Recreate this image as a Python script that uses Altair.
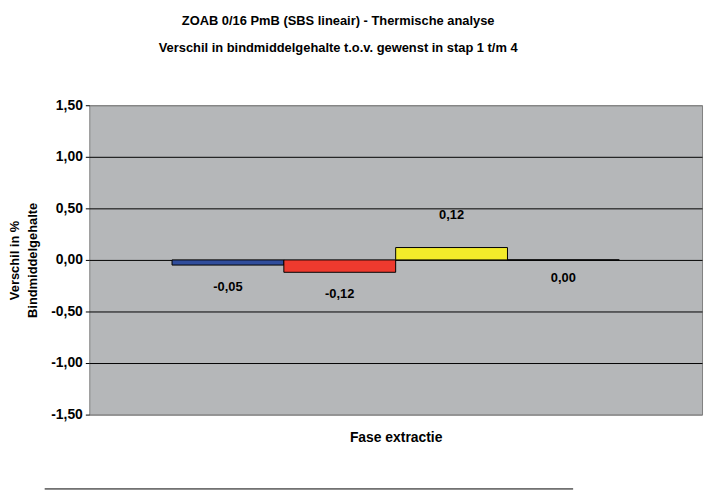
import altair as alt
import pandas as pd

# --- data ---
series = ["Stap 1", "Stap 2", "Stap 3", "Stap 4"]
values = [-0.05, -0.12, 0.12, 0.00]
colors = ["#2f4c9b", "#ee3a2e", "#f3eb2a", "#2e9c9c"]
y_ticks = [-1.5, -1.0, -0.5, 0.0, 0.5, 1.0, 1.5]

title_lines = ["ZOAB 0/16 PmB (SBS lineair) - Thermische analyse",
               "Verschil in bindmiddelgehalte t.o.v. gewenst in stap 1 t/m 4"]
y_title = ["Verschil in %", "Bindmiddelgehalte"]
x_title = "Fase extractie"

df = pd.DataFrame({"serie": series, "waarde": values})

FONT = "Liberation Sans"
fmt = "replace(replace(format({v}, '.2f'), '.', ','), '\u2212', '-')"

base = alt.Chart(df).transform_calculate(
    lab=fmt.format(v="datum.waarde")
)

x_enc = alt.X("serie:N", sort=series,
              scale=alt.Scale(paddingInner=0, paddingOuter=0.74),
              axis=alt.Axis(labels=False, ticks=False, domain=False, title=x_title,
                            titleFont=FONT, titleFontSize=14, titleFontWeight="bold",
                            titleColor="black", titlePadding=16))
y_enc = alt.Y("waarde:Q",
              scale=alt.Scale(domain=[-1.5, 1.5], nice=False, zero=False),
              axis=alt.Axis(values=y_ticks, title=y_title,
                            labelExpr=fmt.format(v="datum.value"),
                            labelFont=FONT, labelFontSize=14, labelFontWeight="bold",
                            labelColor="black", labelPadding=3,
                            tickSize=4, tickColor="black", domain=False,
                            grid=True,
                            gridColor={"condition": {"test": "abs(datum.value) == 1.5", "value": "#7f7f7f"},
                                       "value": "black"},
                            gridOpacity=1,
                            titleFont=FONT, titleFontSize=13, titleFontWeight="bold",
                            titleColor="black", titleLineHeight=18, titlePadding=11))

bars = base.mark_bar(stroke="black", strokeWidth=1).encode(
    x=x_enc,
    y=y_enc,
    color=alt.Color("serie:N", sort=series,
                    scale=alt.Scale(domain=series, range=colors), legend=None),
)

txt_kw = dict(font=FONT, fontSize=13, fontWeight="bold", color="black", baseline="middle")
lab_neg = base.transform_filter("datum.waarde < 0").mark_text(dy=22, **txt_kw).encode(
    x=alt.X("serie:N", sort=series), y="waarde:Q", text="lab:N")
lab_pos = base.transform_filter("datum.waarde > 0").mark_text(dy=-33, **txt_kw).encode(
    x=alt.X("serie:N", sort=series), y="waarde:Q", text="lab:N")
lab_zero = base.transform_filter("datum.waarde == 0").mark_text(dy=18, **txt_kw).encode(
    x=alt.X("serie:N", sort=series), y="waarde:Q", text="lab:N")

deco = alt.Chart(alt.Data(values=[{"a": 1}])).mark_rule(color="black", strokeWidth=1).encode(
    x=alt.value(-45), x2=alt.value(488), y=alt.value(387))

chart = alt.layer(bars, lab_neg, lab_pos, lab_zero, deco).properties(
    width=618, height=312,
    background="white",
    title=alt.TitleParams(text=title_lines, font=FONT, fontSize=13, fontWeight="bold",
                          color="black", lineHeight=27, anchor="middle", dx=-58, offset=44),
    autosize=alt.AutoSizeParams(type="none"),
    padding={"left": 82, "top": 96, "right": 3, "bottom": 77},
).configure_view(
    fill="#b5b7b9", stroke="#7f7f7f", strokeWidth=1
)

chart.save("out.html", embed_options={"renderer": "svg", "actions": False})
